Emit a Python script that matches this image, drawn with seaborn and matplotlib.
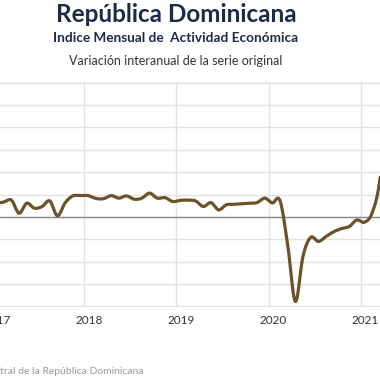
import numpy as np
import pandas as pd
import seaborn as sns
import matplotlib.pyplot as plt
from matplotlib.transforms import blended_transform_factory

# IMAE, variacion interanual (%), Jan 2017 .. Apr 2021
months = pd.date_range('2017-01-01', '2021-04-01', freq='MS')
imae = [4.8, 5.3, 6.0, 1.3, 4.9, 3.1, 3.7, 5.7, 0.4, 5.0, 7.5, 7.6,
        7.6, 6.6, 6.5, 7.6, 6.7, 7.5, 6.3, 6.7, 8.5, 6.7, 6.9, 5.5,
        5.9, 6.0, 5.7, 3.7, 5.1, 2.5, 4.3, 4.5, 4.7, 4.9, 5.1, 6.7,
        5.0, 5.8, -10.0, -30.2, -14.0, -7.3, -8.8, -7.0, -5.3, -4.2, -3.5, -1.1,
        -1.9, 1.4, 13.2, 43.0]
years = [2017, 2018, 2019, 2020, 2021]

navy = '#1c2b4a'
brown = '#6b5228'


def spline(x, y, n=24):
    # cardinal (catmull-rom) curve through the monthly points
    x = np.asarray(x, float)
    y = np.asarray(y, float)
    m = np.gradient(y)
    xs, ys = [], []
    for i in range(len(y) - 1):
        t = np.linspace(0, 1, n, endpoint=False)
        h00 = 2*t**3 - 3*t**2 + 1
        h10 = t**3 - 2*t**2 + t
        h01 = -2*t**3 + 3*t**2
        h11 = t**3 - t**2
        ys.append(h00*y[i] + h10*m[i] + h01*y[i+1] + h11*m[i+1])
        xs.append(x[i] + t*(x[i+1] - x[i]))
    xs.append([x[-1]])
    ys.append([y[-1]])
    return np.concatenate(xs), np.concatenate(ys)


df = pd.DataFrame({'fecha': months, 'imae': imae})
# points sit mid-month
df['t'] = df['fecha'].dt.year + (df['fecha'].dt.month - 0.5) / 12
sx, sy = spline(df['t'], df['imae'])
smooth = pd.DataFrame({'t': sx, 'imae': sy})

sns.set_style('white')
plt.rcParams['font.family'] = ['Lato', 'DejaVu Sans']

fig = plt.figure(figsize=(3.8, 3.8), dpi=100)
ax = fig.add_axes([0, 73/380, 1, 225/380])

ax.set_yticks(np.arange(-32, 49, 8))
ax.set_xticks(years)
ax.grid(True, color='#e2e2e2', lw=1)
ax.axhline(0, color='#8a8a8a', lw=1, zorder=1)

sns.lineplot(data=smooth, x='t', y='imae', ax=ax, color=brown, lw=2.3, zorder=3)

ax.set_xlim(2018 - 84.3/92.1, 2018 + (380 - 84.3)/92.1)
ax.set_ylim(-32.2, 48.2)
for s in ax.spines.values():
    s.set_visible(False)
ax.tick_params(length=0, labelbottom=False, labelleft=False)
ax.set_xlabel('')
ax.set_ylabel('')

tr = blended_transform_factory(ax.transData, ax.transAxes)
for yr in years:
    ax.text(yr + 0.05, -0.06, str(yr), transform=tr, ha='center', va='center',
            fontsize=8.5, color='#333333', clip_on=False)

fig.text(176/380, 1 - 14/380, 'República Dominicana', ha='center', va='center',
         fontsize=17.5, fontweight='bold', color=navy)
fig.text(176/380, 1 - 38/380, 'Indice Mensual de  Actividad Económica', ha='center',
         va='center', fontsize=9.8, fontweight='bold', color=navy)
fig.text(176/380, 1 - 61/380, 'Variación interanual de la serie original', ha='center',
         va='center', fontsize=9, color='#333333')
fig.text(143/380, 1 - 371/380, 'Fuente: Banco Central de la República Dominicana',
         ha='right', va='center', fontsize=7.5, color='#999999')

fig.savefig('out.png', dpi=100)
